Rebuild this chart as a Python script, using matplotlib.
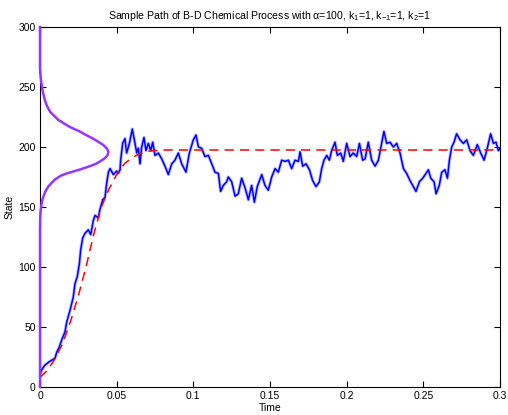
import matplotlib
matplotlib.use("Agg")
import matplotlib.pyplot as plt

plt.rcParams['font.family'] = ['Liberation Sans', 'DejaVu Sans']
plt.rcParams['mathtext.fontset'] = 'custom'
plt.rcParams['mathtext.rm'] = 'Liberation Sans'
plt.rcParams['mathtext.it'] = 'Liberation Sans'

# Sample path (time, state)
path_t = [0.0, 0.001, 0.003, 0.006, 0.0098, 0.0109, 0.0125, 0.0141, 0.0163, 0.0174,
          0.0196, 0.0217, 0.0228, 0.0243, 0.0257, 0.0265, 0.0278, 0.0293, 0.0315, 0.0331,
          0.0348, 0.0359, 0.038, 0.0391, 0.0409, 0.0424, 0.0435, 0.0446, 0.0457, 0.0478,
          0.05, 0.051, 0.0522, 0.0526, 0.0539, 0.0554, 0.0565, 0.0583, 0.0602, 0.0615,
          0.0631, 0.0641, 0.0652, 0.0663, 0.0678, 0.0691, 0.0707, 0.0722, 0.0735, 0.075,
          0.0772, 0.0794, 0.0815, 0.0837, 0.0859, 0.088, 0.0902, 0.0924, 0.0952, 0.0974,
          0.1, 0.1017, 0.1033, 0.1054, 0.1076, 0.1098, 0.112, 0.1141, 0.1163, 0.1178,
          0.1196, 0.1217, 0.1228, 0.125, 0.1272, 0.1293, 0.1315, 0.1337, 0.1359, 0.138,
          0.1398, 0.1417, 0.1446, 0.1467, 0.1489, 0.1511, 0.1533, 0.1554, 0.1576, 0.1598,
          0.162, 0.1641, 0.1663, 0.1685, 0.1696, 0.1713, 0.1735, 0.1757, 0.1778, 0.18,
          0.1822, 0.1837, 0.1852, 0.187, 0.1887, 0.1902, 0.1924, 0.1939, 0.1961, 0.1978,
          0.2, 0.2022, 0.2043, 0.2065, 0.2083, 0.2104, 0.212, 0.2141, 0.2163, 0.2185,
          0.2207, 0.2228, 0.2243, 0.2261, 0.2283, 0.2304, 0.2326, 0.2348, 0.237, 0.2391,
          0.2413, 0.2435, 0.2452, 0.2474, 0.2496, 0.2517, 0.2533, 0.2548, 0.257, 0.2583,
          0.2604, 0.262, 0.2641, 0.2657, 0.267, 0.2685, 0.27, 0.2717, 0.2739, 0.2761,
          0.2783, 0.2804, 0.2826, 0.2852, 0.2874, 0.2896, 0.2917, 0.2939, 0.2957, 0.2974,
          0.2989, 0.3]
path_s = [10, 14, 18, 21, 24, 29, 33, 39, 46, 54,
          64, 75, 86, 92, 103, 114, 124, 128, 131, 127,
          139, 143, 141, 148, 156, 158, 170, 179, 182, 177,
          180, 178, 181, 189, 203, 207, 195, 203, 215, 206,
          195, 199, 186, 200, 208, 197, 203, 197, 204, 193,
          195, 190, 184, 177, 186, 189, 195, 186, 179, 195,
          206, 210, 200, 199, 192, 193, 186, 179, 178, 163,
          168, 171, 175, 171, 159, 161, 174, 166, 156, 168,
          154, 167, 177, 168, 164, 175, 182, 179, 189, 188,
          189, 182, 189, 188, 196, 184, 186, 181, 172, 167,
          171, 182, 189, 193, 189, 197, 204, 193, 195, 188,
          203, 192, 195, 192, 203, 189, 190, 204, 189, 184,
          189, 203, 213, 203, 204, 200, 203, 195, 182, 178,
          172, 167, 163, 171, 174, 178, 181, 174, 171, 161,
          168, 179, 181, 174, 189, 200, 204, 211, 206, 203,
          206, 197, 193, 202, 195, 189, 199, 211, 203, 204,
          197, 199]

# Deterministic (mean) solution
ode_t = [0.0, 0.005, 0.01, 0.015, 0.02, 0.025, 0.03, 0.035, 0.04, 0.045,
         0.05, 0.055, 0.06, 0.065, 0.07, 0.08, 0.3]
ode_s = [8, 14, 24, 37, 55, 76, 100, 127, 150, 165,
         177, 186, 191, 194.5, 196.5, 197.5, 197.5]

# Stationary distribution drawn sideways (state, scaled density on time axis)
dist_s = [0, 130, 140, 145, 150, 155, 158.6, 163, 167, 170, 173, 176, 178, 181, 184, 186,
          188.5, 190.6, 193, 196, 198.5, 201.7, 204, 207, 210, 212.8, 217, 222.5, 229,
          234, 239, 245, 250, 255, 260, 265, 300]
dist_t = [0, 0, 0.0001, 0.0003, 0.0007, 0.0013, 0.0022, 0.0035, 0.0054, 0.0075, 0.0098,
          0.0135, 0.0174, 0.0255, 0.0325, 0.0365, 0.0398, 0.0422, 0.0440, 0.0446, 0.0437,
          0.0413, 0.0385, 0.0345, 0.0300, 0.0261, 0.0190, 0.0120, 0.0068, 0.0046, 0.0032,
          0.0020, 0.0013, 0.0007, 0.0003, 0, 0]

xticks = [0, 0.05, 0.1, 0.15, 0.2, 0.25, 0.3]
xticklabels = ['0', '0.05', '0.1', '0.15', '0.2', '0.25', '0.3']
yticks = [0, 50, 100, 150, 200, 250, 300]

fig = plt.figure(figsize=(5.08, 4.15), dpi=100)
ax = fig.add_axes([40/508, 28/415, 460/508, 360/415])

ax.plot(path_t, path_s, color='#7070ff', lw=2.4, alpha=0.45)
ax.plot(path_t, path_s, color='#0000ff', lw=1.1)
ax.plot(ode_t, ode_s, color='#ff0000', lw=1.1, dashes=(6, 4))
ax.plot(dist_t, dist_s, color='#9933ff', lw=1.8, clip_on=False, zorder=5)

ax.set_xlim(0, 0.3)
ax.set_ylim(0, 300)
ax.set_xticks(xticks)
ax.set_xticklabels(xticklabels)
ax.set_yticks(yticks)
ax.tick_params(direction='in', length=4, width=0.8, labelsize=7.5, top=True, right=True,
               pad=3)
for sp in ax.spines.values():
    sp.set_linewidth(0.8)

ax.set_title('Sample Path of B-D Chemical Process with α=100, k$_1$=1, k$_{-1}$=1, k$_2$=1',
             fontsize=7.6, pad=6)
ax.set_xlabel('Time', fontsize=7.5, labelpad=1)
ax.set_ylabel('State', fontsize=7.5, labelpad=3)

fig.savefig('out.png', dpi=100)
